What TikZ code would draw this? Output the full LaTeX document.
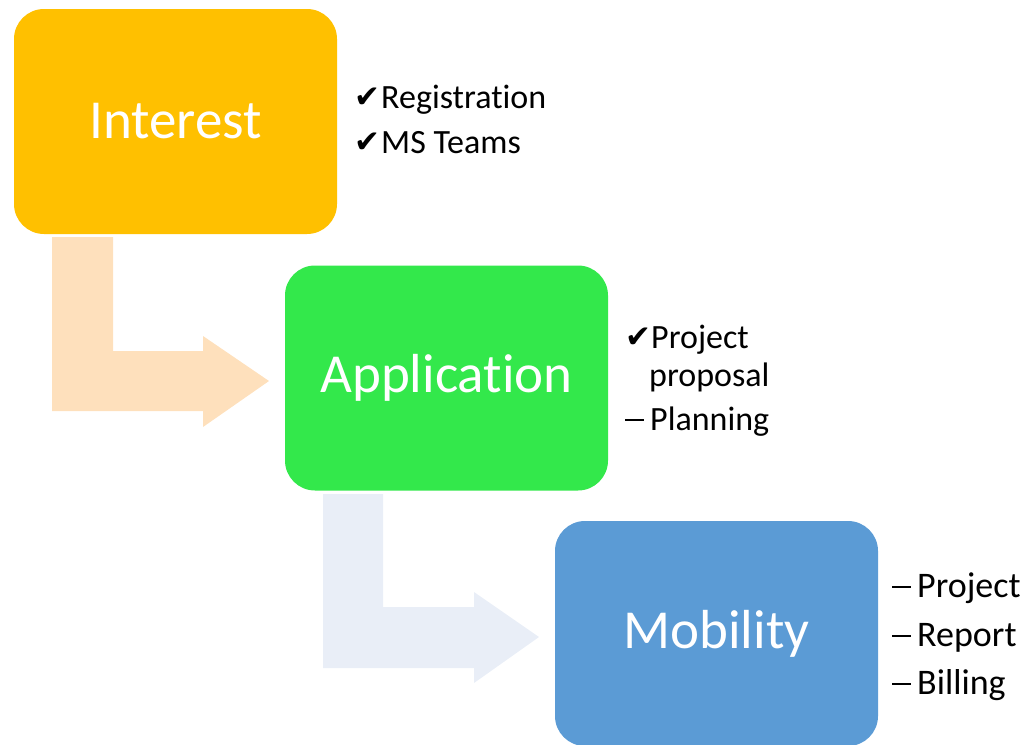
\documentclass[tikz,border=0pt]{standalone}
\usepackage{fontspec}
\setmainfont{Carlito}[Ligatures=NoCommon]
\newfontfamily\symfont{DejaVu Sans}
\definecolor{cInt}{HTML}{FFC000}
\definecolor{cApp}{HTML}{33E84B}
\definecolor{cMob}{HTML}{5B9BD5}
\definecolor{cArrA}{HTML}{FEE0BC}
\definecolor{cArrB}{HTML}{E9EEF7}
\newcommand{\dashmark}{\rule[9.5pt]{19pt}{1.8pt}}
\begin{document}
\begin{tikzpicture}[x=1pt,y=-1pt,
  box/.style={rounded corners=30pt, minimum width=323pt, minimum height=225pt,
    inner sep=0pt, text=white, font=\fontsize{55}{60}\selectfont},
  itemA/.style={anchor=base west, inner sep=0pt, font=\fontsize{34}{40}\selectfont},
  itemB/.style={anchor=base west, inner sep=0pt, font=\fontsize{34}{40}\selectfont},
  itemC/.style={anchor=base west, inner sep=0pt, font=\fontsize{36}{40}\selectfont},
  tick/.style={anchor=base west, inner sep=0pt, font=\symfont\fontsize{31}{34}\selectfont}]
\useasboundingbox (0,0) rectangle (1027,744);
\clip (0,0) rectangle (1027,744);
% bent arrows
\fill[cArrA] (52,237) -- (113,237) -- (113,351) -- (203,351) -- (203,336) -- (269,381)
  -- (203,427) -- (203,411) -- (52,411) -- cycle;
\fill[cArrB] (323,494) -- (383,494) -- (383,607) -- (474,607) -- (474,592) -- (539,637)
  -- (474,683) -- (474,668) -- (323,668) -- cycle;
% boxes
\node[box, fill=cInt] (interest) at (175.5,121.5) {Interest};
\node[box, fill=cApp] (application) at (446.5,378) {Application};
\node[box, fill=cMob] (mobility) at (716.5,633.5) {Mobility};
% Interest items
\node[tick] (t1) at (354,107) {✔};
\node[itemA] (i1) at (381,108) {Registration};
\node[tick] (t2) at (354,152) {✔};
\node[itemA] (i2) at (381,153) {MS Teams};
% Application items
\node[tick] (t3) at (625,347) {✔};
\node[itemB] (a1) at (651,348) {Project};
\node[itemB] (a2) at (649,386) {proposal};
\node[itemB] (d1) at (625,430) {\dashmark};
\node[itemB] (a3) at (650,430) {Planning};
% Mobility items
\node[itemC] (d2) at (892,597) {\dashmark};
\node[itemC] (m1) at (917,597) {Project};
\node[itemC] (d3) at (892,646) {\dashmark};
\node[itemC] (m2) at (917,646) {Report};
\node[itemC] (d4) at (892,694) {\dashmark};
\node[itemC] (m3) at (917,694) {Billing};
\end{tikzpicture}
\end{document}
